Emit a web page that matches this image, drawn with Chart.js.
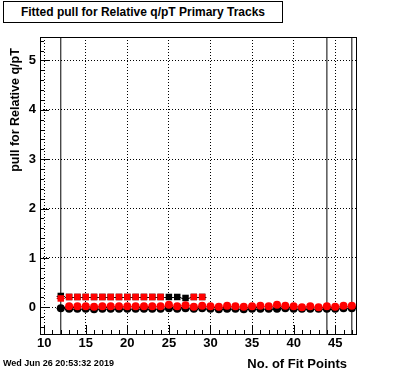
<!DOCTYPE html>
<html>
<head>
<meta charset="utf-8">
<script src="https://cdn.jsdelivr.net/npm/chart.js@4.4.0/dist/chart.umd.min.js"></script>
<style>
  body { margin: 0; background: #fff; }
  #wrap { position: relative; width: 396px; height: 372px; font-family: "Liberation Sans", Arial, sans-serif; font-weight: bold; color: #000; }
  #wrap canvas { position: absolute; left: 0; top: 0; }
  .txt { position: absolute; white-space: nowrap; }
  #title { left: 3px; top: 1px; width: 278px; height: 20px; border: 1px solid #000; background: #fff; font-size: 12px; line-height: 20px; text-align: center; }
  #ytitle { left: -85px; top: 102px; width: 200px; height: 16px; line-height: 16px; font-size: 12.5px; text-align: center; transform: rotate(-90deg); }
  #xtitle { right: 49px; top: 356px; font-size: 13px; line-height: 16px; }
  #date { left: 3px; top: 358px; font-size: 9px; line-height: 11px; }
</style>
</head>
<body>
<div id="wrap">
  <canvas id="pullChart" width="396" height="372"></canvas>
  <div class="txt" id="title">Fitted pull for Relative q/pT Primary Tracks</div>
  <div class="txt" id="ytitle">pull for Relative q/pT</div>
  <div class="txt" id="xtitle">No. of Fit Points</div>
  <div class="txt" id="date">Wed Jun 26 20:53:32 2019</div>
</div>
<script>
// number of fit points (bin centres)
const fitPoints = [12, 13, 14, 15, 16, 17, 18, 19, 20, 21, 22, 23, 24, 25, 26, 27, 28, 29,
                   30, 31, 32, 33, 34, 35, 36, 37, 38, 39, 40, 41, 42, 43, 44, 45, 46, 47];
const blackCircle = [-0.02, -0.03, -0.03, -0.03, -0.04, -0.03, -0.03, -0.03, -0.03, -0.03, -0.03, -0.03,
                     -0.03, -0.02, -0.03, -0.02, -0.03, -0.02, -0.03, -0.04, -0.03, -0.03, -0.04, -0.03,
                     -0.03, -0.03, -0.03, -0.02, -0.03, -0.03, -0.03, -0.03, -0.03, -0.03, -0.02, -0.02];
const redCircle = [null, 0.02, 0.02, 0.02, 0.01, 0.02, 0.02, 0.02, 0.02, 0.02, 0.02, 0.02,
                   0.02, 0.05, 0.02, 0.04, 0.01, 0.03, 0.02, 0.01, 0.03, 0.02, 0.01, 0.02,
                   0.03, 0.02, 0.05, 0.03, 0.02, 0.00, 0.02, 0.00, 0.02, 0.01, 0.03, 0.03];

const squareBins = [12, 13, 14, 15, 16, 17, 18, 19, 20, 21, 22, 23, 24, 25, 26, 27, 28, 29];
const blackSquare = [0.23, 0.21, 0.21, 0.21, 0.21, 0.21, 0.21, 0.21, 0.21, 0.21, 0.21, 0.21, 0.21,
                     0.21, 0.21, 0.19, 0.21, 0.21];
const redSquare = [0.18, 0.21, 0.21, 0.21, 0.21, 0.21, 0.21, 0.21, 0.21, 0.21, 0.21, 0.21, 0.21,
                   null, null, null, 0.21, 0.21];

const fitLines = [12, 44, 47];
const xRange = [9.5, 47.5];
const yRange = [-0.54, 5.475];

function toPoints(xs, ys) {
    return xs.map((x, i) => ({ x: x, y: ys[i] })).filter(p => p.y !== null);
}

const lineSets = fitLines.map(v => ({
    type: 'line',
    data: [{ x: v, y: yRange[0] }, { x: v, y: yRange[1] }],
    borderColor: '#000',
    borderWidth: 1,
    pointRadius: 0,
    showLine: true,
    order: 10
}));

// ROOT-ish frame, inner tick marks and x error bars
const rootStyle = {
    id: 'rootStyle',
    beforeDatasetsDraw(chart) {
        const ctx = chart.ctx;
        const xs = chart.scales.x, ys = chart.scales.y;
        ctx.save();
        ctx.lineWidth = 1;
        chart.data.datasets.forEach(ds => {
            if (!ds.errBars) return;
            ctx.strokeStyle = ds.borderColor;
            ds.data.forEach(p => {
                const py = Math.round(ys.getPixelForValue(p.y)) + 0.5;
                ctx.beginPath();
                ctx.moveTo(xs.getPixelForValue(p.x - 0.5), py);
                ctx.lineTo(xs.getPixelForValue(p.x + 0.5), py);
                ctx.stroke();
            });
        });
        ctx.restore();
    },
    afterDraw(chart) {
        const ctx = chart.ctx;
        const a = chart.chartArea;
        const xs = chart.scales.x, ys = chart.scales.y;
        ctx.save();
        ctx.strokeStyle = '#000';
        ctx.lineWidth = 1;
        ctx.beginPath();
        for (let v = 10; v <= 47; v++) {
            const px = Math.round(xs.getPixelForValue(v)) + 0.5;
            const len = v % 5 === 0 ? 9 : 4;
            ctx.moveTo(px, a.bottom);
            ctx.lineTo(px, a.bottom - len);
        }
        for (let i = -2; i <= 27; i++) {
            const v = i * 0.2;
            const py = Math.round(ys.getPixelForValue(v)) + 0.5;
            const len = i % 5 === 0 ? 9 : 4;
            ctx.moveTo(a.left, py);
            ctx.lineTo(a.left + len, py);
        }
        ctx.stroke();
        ctx.strokeRect(Math.round(a.left) + 0.5, Math.round(a.top) + 0.5,
                       Math.round(a.right - a.left), Math.round(a.bottom - a.top));
        ctx.restore();
    }
};

const tickFont = { family: 'Liberation Sans', size: 13, weight: 'bold' };

new Chart(document.getElementById('pullChart'), {
    type: 'scatter',
    data: {
        datasets: [
            { data: toPoints(squareBins, redSquare), pointStyle: 'rect', pointRadius: 4.6,
              backgroundColor: '#ff0000', borderColor: '#ff0000', borderWidth: 0, errBars: true, order: 1 },
            { data: toPoints(fitPoints, redCircle), pointStyle: 'circle', pointRadius: 4,
              backgroundColor: '#ff0000', borderColor: '#ff0000', borderWidth: 0, errBars: true, order: 2 },
            { data: toPoints(squareBins, blackSquare), pointStyle: 'rect', pointRadius: 4.6,
              backgroundColor: '#000', borderColor: '#000', borderWidth: 0, errBars: true, order: 3 },
            { data: toPoints(fitPoints, blackCircle), pointStyle: 'circle', pointRadius: 4,
              backgroundColor: '#000', borderColor: '#000', borderWidth: 0, errBars: true, order: 4 },
            ...lineSets
        ]
    },
    options: {
        responsive: false,
        animation: false,
        devicePixelRatio: 1,
        layout: { padding: { top: 37, right: 40, left: 0, bottom: 0 } },
        plugins: { legend: { display: false }, tooltip: { enabled: false } },
        scales: {
            x: {
                type: 'linear',
                min: xRange[0],
                max: xRange[1],
                afterFit(scale) { scale.height = 38; },
                ticks: { stepSize: 5, includeBounds: false, color: '#000', font: tickFont, padding: 2, maxRotation: 0 },
                grid: { color: '#000', lineWidth: 1, drawTicks: false },
                border: { display: false, dash: [1, 2] }
            },
            y: {
                min: yRange[0],
                max: yRange[1],
                afterFit(scale) { scale.width = 40; },
                ticks: { stepSize: 1, includeBounds: false, color: '#000', font: tickFont, padding: 4 },
                grid: { color: '#000', lineWidth: 1, drawTicks: false },
                border: { display: false, dash: [1, 2] }
            }
        }
    },
    plugins: [rootStyle]
});
</script>
</body>
</html>
